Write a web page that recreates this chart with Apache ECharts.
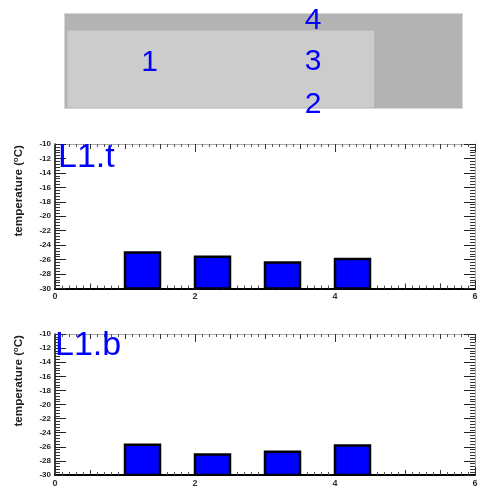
<!DOCTYPE html>
<html>
<head>
<meta charset="utf-8">
<script src="https://cdn.jsdelivr.net/npm/echarts@6/dist/echarts.min.js"></script>
<style>
  html, body { margin: 0; padding: 0; background: #ffffff; }
  #chart { width: 483px; height: 488px; }
</style>
</head>
<body>
<div id="chart"></div>
<script>
// Channel positions along the x axis and the two temperature readings
const positions = [1, 2, 3, 4];
const tempTop = [-25.0, -25.6, -26.4, -25.9];
const tempBottom = [-25.7, -27.1, -26.7, -25.8];
const panelTitles = ['L1.t', 'L1.b'];
const padNumbers = ['1', '4', '3', '2'];
const yTitle = 'temperature (';

const X_MIN = 0, X_MAX = 6, X_STEP = 2;
const Y_MIN = -30, Y_MAX = -10, Y_STEP = 2;
const BAR_SPAN = 0.5;

const FONT = '"Liberation Sans", Arial, sans-serif';
const grids = [
  { left: 55, top: 144, width: 420, height: 144.5 },
  { left: 55, top: 334, width: 420, height: 144 }
];

const xAxes = [];
const yAxes = [];
const series = [];

function makeX(gridIndex, opts) {
  return Object.assign({
    gridIndex, type: 'value', min: X_MIN, max: X_MAX, interval: X_STEP,
    splitLine: { show: false },
    axisLabel: { show: false },
    axisLine: { show: false },
    axisTick: { show: false },
    minorTick: { show: false }
  }, opts);
}
function makeY(gridIndex, opts) {
  return Object.assign({
    gridIndex, type: 'value', min: Y_MIN, max: Y_MAX, interval: Y_STEP,
    splitLine: { show: false },
    axisLabel: { show: false },
    axisLine: { show: false },
    axisTick: { show: false },
    minorTick: { show: false }
  }, opts);
}

[tempTop, tempBottom].forEach((values, g) => {
  const base = xAxes.length;
  // bottom axis: labels, major and fine ticks
  xAxes.push(makeX(g, {
    position: 'bottom',
    axisLine: { show: true, onZero: false, lineStyle: { color: '#000', width: 2 } },
    axisTick: { show: true, inside: true, length: 8, lineStyle: { color: '#222', width: 1 } },
    minorTick: { show: true, splitNumber: 20, length: 3, lineStyle: { color: '#555', width: 1 } },
    axisLabel: { show: true, margin: 4, fontFamily: FONT, fontSize: 9, fontWeight: 'bold', color: '#333' }
  }));
  // bottom axis: half-unit ticks
  xAxes.push(makeX(g, {
    position: 'bottom', interval: 0.5,
    axisTick: { show: true, inside: true, length: 5, lineStyle: { color: '#333', width: 1 } }
  }));
  // top frame edge
  xAxes.push(makeX(g, {
    position: 'top',
    axisLine: { show: true, onZero: false, lineStyle: { color: '#aaa', width: 1 } },
    axisTick: { show: true, inside: true, length: 8, lineStyle: { color: '#333', width: 1 } },
    minorTick: { show: true, splitNumber: 20, length: 3, lineStyle: { color: '#555', width: 1 } }
  }));
  xAxes.push(makeX(g, {
    position: 'top', interval: 0.5,
    axisTick: { show: true, inside: true, length: 5, lineStyle: { color: '#333', width: 1 } }
  }));

  const yBase = yAxes.length;
  yAxes.push(makeY(g, {
    position: 'left',
    axisLine: { show: true, onZero: false, lineStyle: { color: '#000', width: 1.5 } },
    axisTick: { show: true, inside: true, length: 11, lineStyle: { color: '#222', width: 1 } },
    minorTick: { show: true, splitNumber: 5, length: 5, lineStyle: { color: '#333', width: 1 } },
    axisLabel: { show: true, margin: 4, fontFamily: FONT, fontSize: 8, fontWeight: 'bold', color: '#222' }
  }));
  yAxes.push(makeY(g, {
    position: 'right',
    axisLine: { show: true, onZero: false, lineStyle: { color: '#aaa', width: 1 } },
    axisTick: { show: true, inside: true, length: 11, lineStyle: { color: '#222', width: 1 } },
    minorTick: { show: true, splitNumber: 5, length: 5, lineStyle: { color: '#333', width: 1 } }
  }));

  series.push({
    type: 'custom',
    xAxisIndex: base,
    yAxisIndex: yBase,
    clip: true,
    data: positions.map((p, i) => [p, values[i]]),
    renderItem: function (params, api) {
      const x0 = api.value(0);
      const v = api.value(1);
      const a = api.coord([x0, v]);
      const b = api.coord([x0 + BAR_SPAN, Y_MIN]);
      return {
        type: 'rect',
        shape: { x: a[0], y: a[1], width: b[0] - a[0], height: b[1] - a[1] },
        style: { fill: '#0000ff', stroke: '#000000', lineWidth: 2.5 }
      };
    }
  });
});

// Heading pad with its numbered markers
const graphic = [
  { type: 'rect', z: 0, shape: { x: 64.5, y: 13.5, width: 398, height: 95 },
    style: { fill: '#b3b3b3', stroke: '#d6d6d6', lineWidth: 1 } },
  { type: 'rect', z: 1, shape: { x: 67.5, y: 30.5, width: 306.5, height: 77 },
    style: { fill: '#cccccc' } }
];
const numberSpots = [[149.5, 63], [313, 21], [313, 62], [313, 105]];
padNumbers.forEach((t, i) => {
  graphic.push({
    type: 'text', z: 5, x: numberSpots[i][0], y: numberSpots[i][1],
    style: { text: t, fill: '#0000ff', font: '30px ' + FONT, textAlign: 'center', textVerticalAlign: 'middle' }
  });
});

// Panel captions and y-axis titles
const captionSpots = [[58, 157.5], [55, 345.5]];
grids.forEach((gr, g) => {
  graphic.push({
    type: 'text', z: 10, x: captionSpots[g][0], y: captionSpots[g][1],
    style: { text: panelTitles[g], fill: '#0000ff', font: '34px ' + FONT, textAlign: 'left', textVerticalAlign: 'middle' }
  });
  graphic.push({
    type: 'text', z: 10, x: 18, y: gr.top + 1, rotation: Math.PI / 2,
    style: {
      text: '{t|' + yTitle + '}{s|o}{t|C)}',
      textAlign: 'right', textVerticalAlign: 'middle',
      rich: {
        t: { fontFamily: FONT, fontSize: 11.7, fontWeight: 'bold', fill: '#222', verticalAlign: 'bottom' },
        s: { fontFamily: FONT, fontSize: 7.5, fontWeight: 'bold', fill: '#222', verticalAlign: 'top', padding: [0, 0, 5, 0] }
      }
    }
  });
});

const chart = echarts.init(document.getElementById('chart'), null, { renderer: 'canvas' });
chart.setOption({
  animation: false,
  backgroundColor: '#ffffff',
  grid: grids.map(g => Object.assign({ containLabel: false }, g)),
  xAxis: xAxes,
  yAxis: yAxes,
  series: series,
  graphic: graphic
});
</script>
</body>
</html>
